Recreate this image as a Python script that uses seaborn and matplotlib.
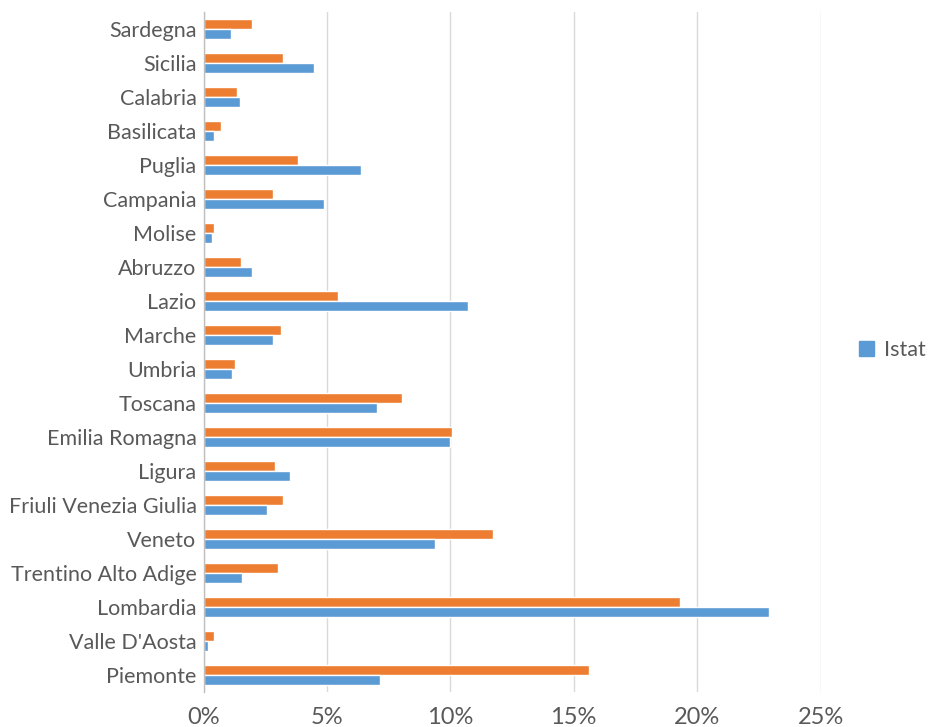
import matplotlib
matplotlib.use("Agg")
import matplotlib.pyplot as plt
import matplotlib.patches as mpatches
import matplotlib.ticker as mticker
import seaborn as sns
import pandas as pd

regions = ["Sardegna", "Sicilia", "Calabria", "Basilicata", "Puglia", "Campania",
           "Molise", "Abruzzo", "Lazio", "Marche", "Umbria", "Toscana",
           "Emilia Romagna", "Ligura", "Friuli Venezia Giulia", "Veneto",
           "Trentino Alto Adige", "Lombardia", "Valle D'Aosta", "Piemonte"]
campione = [1.98, 3.23, 1.34, 0.70, 3.81, 2.80, 0.43, 1.50, 5.43, 3.12, 1.28, 8.06,
            10.05, 2.89, 3.23, 11.72, 3.03, 19.32, 0.43, 15.62]
istat = [1.11, 4.49, 1.48, 0.43, 6.38, 4.88, 0.34, 1.98, 10.70, 2.80, 1.14, 7.01,
         9.98, 3.50, 2.56, 9.37, 1.57, 22.90, 0.19, 7.14]
series_names = ["Campione", "Istat"]
x_ticks = [0, 5, 10, 15, 20, 25]

df = pd.concat([
    pd.DataFrame({"regione": regions, "valore": campione, "serie": series_names[0]}),
    pd.DataFrame({"regione": regions, "valore": istat, "serie": series_names[1]}),
])

sns.set_style("white")
plt.rcParams["font.family"] = ["Lato", "DejaVu Sans"]

fig = plt.figure(figsize=(9.38, 7.27), dpi=100)
ax = fig.add_axes([203.5 / 938, 1 - 692 / 727, (820.5 - 203.5) / 938, (692 - 12) / 727])

colors = {"Campione": "#ED7D31", "Istat": "#5B9BD5"}
sns.barplot(data=df, y="regione", x="valore", hue="serie", hue_order=series_names,
            order=regions, palette=colors, orient="h", width=0.56, gap=0,
            saturation=1, ax=ax, legend=False)

ax.set_xlim(0, 25)
ax.set_xticks(x_ticks)
ax.xaxis.set_major_formatter(mticker.FuncFormatter(lambda v, p: f"{int(v)}%"))
ax.set_xlabel("")
ax.set_ylabel("")
ax.grid(axis="x", color="#d9d9d9", linewidth=1)
ax.set_axisbelow(True)
for s in ["top", "right", "bottom"]:
    ax.spines[s].set_visible(False)
ax.spines["left"].set_color("#bfbfbf")
ax.spines["left"].set_linewidth(1)
ax.tick_params(axis="y", length=0, pad=5, labelsize=15.5, labelcolor="#595959")
ax.tick_params(axis="x", length=0, pad=11, labelsize=17, labelcolor="#595959")

handle = mpatches.Patch(color=colors["Istat"], label="Istat")
fig.legend(handles=[handle], loc="center left", bbox_to_anchor=(850 / 938, 1 - 350 / 727),
           frameon=False, fontsize=15.5, labelcolor="#595959", handlelength=0.7,
           handleheight=0.7, handletextpad=0.5, borderpad=0.2, borderaxespad=0.2)

fig.savefig("out.png", dpi=100, facecolor="white")
